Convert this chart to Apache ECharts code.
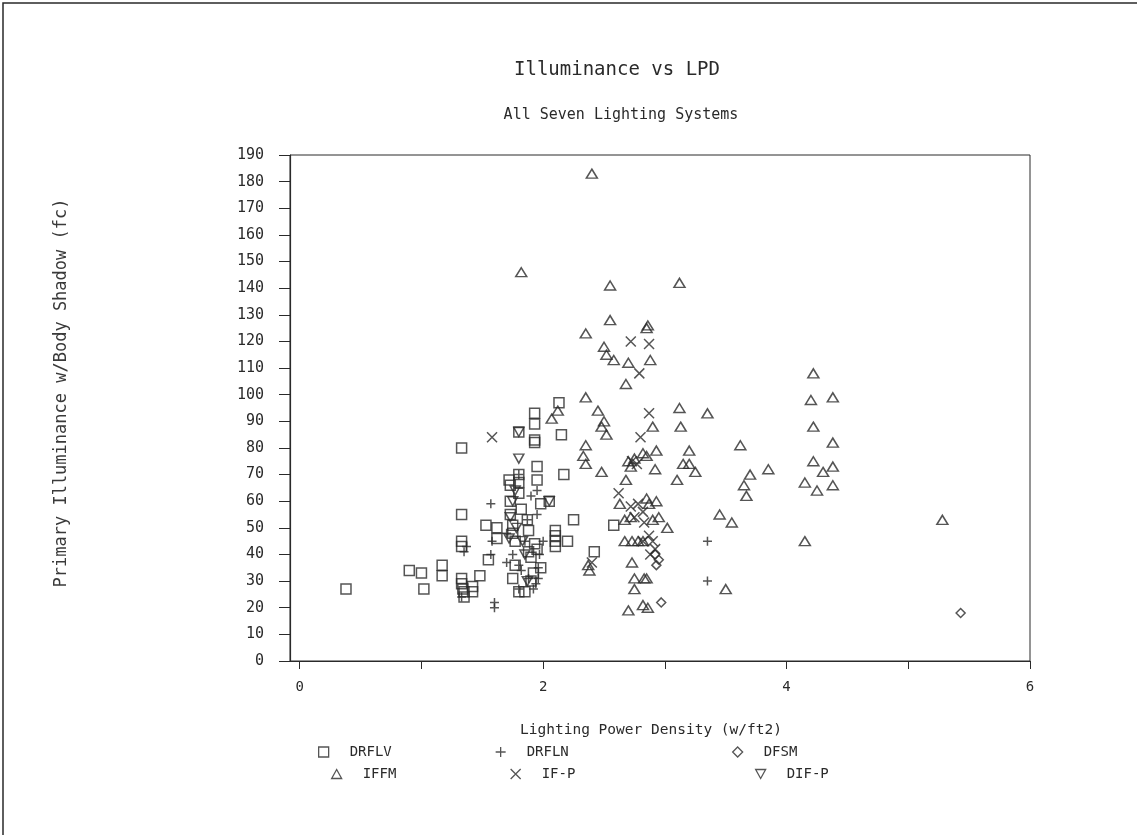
<!DOCTYPE html>
<html>
<head>
<meta charset="utf-8">
<script src="https://cdn.jsdelivr.net/npm/echarts@6/dist/echarts.min.js"></script>
<style>
html,body{margin:0;padding:0;background:#fff;}
#chart{width:1137px;height:835px;}
</style>
</head>
<body>
<div id="chart"></div>
<script>
// ---- data (x = Lighting Power Density w/ft2, y = illuminance fc) ----
const DRFLV = [[0.38,27],[0.9,34],[1.0,33],[1.02,27],[1.17,36],[1.17,32],[1.33,80],[1.33,55],[1.33,45],[1.33,43],[1.33,31],[1.33,29],[1.34,27],[1.35,26],[1.35,24],[1.42,28],[1.42,26],[1.48,32],[1.53,51],[1.55,38],[1.62,50],[1.62,46],[1.72,68],[1.73,66],[1.73,60],[1.73,55],[1.75,51],[1.75,48],[1.77,45],[1.77,36],[1.75,31],[1.8,26],[1.85,26],[1.8,70],[1.8,67],[1.8,63],[1.8,86],[1.82,57],[1.87,53],[1.88,49],[1.88,41],[1.9,39],[1.92,33],[1.9,30],[1.93,93],[1.93,89],[1.93,83],[1.93,82],[1.95,73],[1.95,68],[1.98,59],[1.93,44],[1.95,42],[2.05,60],[2.1,49],[2.1,47],[2.1,45],[2.1,43],[2.13,97],[2.15,85],[2.17,70],[2.2,45],[2.25,53],[2.42,41],[2.58,51],[1.98,35]];
const DRFLN = [[1.57,59],[1.58,45],[1.57,40],[1.6,22],[1.6,20],[1.35,41],[1.37,43],[1.33,24],[1.7,48],[1.7,37],[1.75,40],[1.8,36],[1.82,34],[1.85,45],[1.87,53],[1.9,62],[1.95,64],[1.95,55],[1.97,40],[1.96,35],[1.96,31],[1.94,29],[1.92,27],[1.88,31],[1.8,27],[2.0,45],[3.35,45],[3.35,30],[1.8,70]];
const DFSM = [[5.43,18],[2.97,22],[2.93,36],[2.92,40],[2.95,38]];
const IFFM = [[2.40,183],[1.82,146],[2.55,141],[3.12,142],[2.35,123],[2.55,128],[2.5,118],[2.52,115],[2.58,113],[2.7,112],[2.68,104],[2.85,125],[2.86,126],[2.88,113],[2.35,99],[2.45,94],[2.48,88],[2.5,90],[2.52,85],[2.35,81],[2.33,77],[2.35,74],[2.48,71],[2.07,91],[2.12,94],[2.7,75],[2.72,73],[2.75,76],[2.82,78],[2.85,77],[2.9,88],[2.93,79],[2.92,72],[2.68,68],[2.63,59],[2.67,53],[2.72,54],[2.85,61],[2.87,59],[2.9,53],[2.95,54],[2.93,60],[3.02,50],[2.67,45],[2.73,45],[2.78,45],[2.82,45],[2.73,37],[2.75,31],[2.83,31],[2.85,31],[2.75,27],[2.7,19],[2.82,21],[2.86,20],[2.37,36],[2.38,34],[3.12,95],[3.13,88],[3.1,68],[3.15,74],[3.2,74],[3.2,79],[3.25,71],[3.35,93],[3.45,55],[3.55,52],[3.5,27],[3.62,81],[3.65,66],[3.67,62],[3.7,70],[3.85,72],[4.15,45],[4.15,67],[4.2,98],[4.22,108],[4.22,88],[4.22,75],[4.25,64],[4.3,71],[4.38,99],[4.38,82],[4.38,73],[4.38,66],[5.28,53]];
const IFP = [[1.58,84],[2.72,120],[2.87,119],[2.79,108],[2.87,93],[2.8,84],[2.77,74],[2.73,75],[2.62,63],[2.72,58],[2.78,59],[2.82,56],[2.75,54],[2.83,52],[2.87,47],[2.9,45],[2.92,42],[2.88,40],[2.82,45],[2.4,37]];
const DIFP = [[1.8,86],[1.8,76],[1.77,64],[1.75,60],[1.73,54],[1.78,50],[1.72,46],[1.83,45],[2.05,60],[1.85,40],[1.87,30]];
const xLabelValues = [0, 2, 4, 6];
const xTickValues = [0, 1, 2, 3, 4, 5, 6];

const INK = '#2a2a2a';
const FONT = 'DejaVu Sans Mono';

const SYM = {
  DRFLV: {symbol: 'rect', size: [10, 10]},
  DRFLN: {symbol: 'path://M0,5L10,5M5,0L5,10', size: [9, 9]},
  DFSM: {symbol: 'path://M5,0L10,5L5,10L0,5Z', size: [9, 9]},
  IFFM: {symbol: 'path://M5,0L10,9L0,9Z', size: [11, 9]},
  'IF-P': {symbol: 'path://M0,0L10,10M10,0L0,10', size: [10, 10]},
  'DIF-P': {symbol: 'path://M0,0L10,0L5,9Z', size: [10, 9]}
};

function mk(name, data) {
  return {
    name: name, type: 'scatter', data: data,
    symbol: SYM[name].symbol, symbolSize: SYM[name].size,
    itemStyle: {color: 'rgba(255,255,255,0)', borderColor: INK, borderWidth: 1.5},
    emphasis: {disabled: true}
  };
}

function leg(name, left, top) {
  return {
    data: [{name: name, icon: SYM[name].symbol}], left: left, top: top,
    itemWidth: 10, itemHeight: 10, itemGap: 0,
    textStyle: {fontFamily: FONT, fontSize: 14, color: INK, padding: [0, 0, 0, 16]},
    itemStyle: {color: 'rgba(255,255,255,0)', borderColor: INK, borderWidth: 1.3},
    selectedMode: false
  };
}

const chart = echarts.init(document.getElementById('chart'), null, {renderer: 'canvas'});
chart.setOption({
  backgroundColor: '#ffffff',
  animation: false,
  title: [
    {text: 'Illuminance vs LPD', left: 612, top: 56, textAlign: 'center',
     textStyle: {fontFamily: FONT, fontSize: 19, fontWeight: 'normal', color: INK}},
    {text: 'All Seven Lighting Systems', left: 616, top: 103, textAlign: 'center',
     textStyle: {fontFamily: FONT, fontSize: 15, fontWeight: 'normal', color: INK}}
  ],
  legend: [
    leg('DRFLV', 313, 740), leg('DRFLN', 490, 740), leg('DFSM', 727, 740),
    leg('IFFM', 326, 762), leg('IF-P', 505, 762), leg('DIF-P', 750, 762)
  ],
  grid: {left: 290, right: 107, top: 155, bottom: 174, show: true, borderColor: INK, borderWidth: 1, backgroundColor: 'transparent'},
  xAxis: {
    type: 'value', min: -0.08, max: 6,
    name: 'Lighting Power Density (w/ft2)', nameLocation: 'middle', nameGap: 62,
    nameTextStyle: {fontFamily: FONT, fontSize: 14.5, color: INK, padding: [0, 18, 0, 0]},
    axisLine: {lineStyle: {color: INK, width: 1.2}},
    axisTick: {show: true, length: 8, inside: false, customValues: xTickValues, lineStyle: {color: INK}},
    axisLabel: {customValues: xLabelValues, fontFamily: FONT, fontSize: 14, color: INK, margin: 19},
    splitLine: {show: false}
  },
  yAxis: {
    type: 'value', min: 0, max: 190, interval: 10,
    name: 'Primary Illuminance w/Body Shadow (fc)', nameLocation: 'middle', nameGap: 220, nameRotate: 90,
    nameTextStyle: {fontFamily: FONT, fontSize: 17, color: '#3a3a3a', padding: [0, 0, 0, 30]},
    axisLine: {show: true, onZero: false, lineStyle: {color: INK, width: 1.2}},
    axisTick: {show: true, length: 11, lineStyle: {color: INK}},
    axisLabel: {fontFamily: FONT, fontSize: 15, color: INK, margin: 26},
    splitLine: {show: false}
  },
  graphic: [
    {type: 'polyline', shape: {points: [[3, 835], [3, 3], [1137, 3]]}, style: {fill: 'none', stroke: INK, lineWidth: 1.5}, silent: true}
  ],
  series: [
    mk('DRFLV', DRFLV), mk('DRFLN', DRFLN), mk('DFSM', DFSM),
    mk('IFFM', IFFM), mk('IF-P', IFP), mk('DIF-P', DIFP)
  ]
});
</script>
</body>
</html>
